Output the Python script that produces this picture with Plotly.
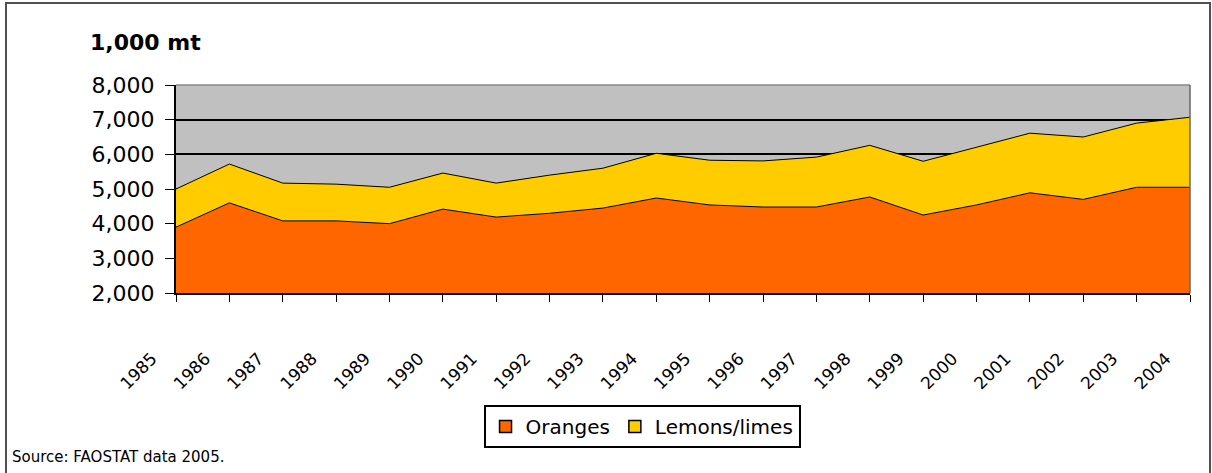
import plotly.graph_objects as go

# citrus production, 1,000 mt
years = list(range(1985, 2005))
oranges = [3900, 4600, 4080, 4080, 4000, 4420, 4190, 4300, 4450, 4740,
           4540, 4480, 4480, 4770, 4250, 4540, 4890, 4700, 5050, 5050]
lemons_limes = [1100, 1120, 1090, 1060, 1050, 1040, 980, 1100, 1150, 1290,
                1290, 1330, 1440, 1490, 1550, 1670, 1720, 1800, 1850, 2020]
y_ticks = [2000, 3000, 4000, 5000, 6000, 7000, 8000]

series = [("Oranges", oranges, "#ff6600"), ("Lemons/limes", lemons_limes, "#ffcc00")]

fig = go.Figure()
for name, vals, col in series:
    fig.add_scatter(x=years, y=vals, name=name, stackgroup="one", showlegend=False,
                    mode="lines", line=dict(color="black", width=1), fillcolor=col)
# square legend keys, like the original
for name, vals, col in series:
    fig.add_bar(x=[None], y=[None], name=name, marker=dict(color=col, line=dict(color="black", width=1.5)))

fig.update_layout(
    width=1212, height=473,
    margin=dict(l=176, r=22, t=85, b=180),
    paper_bgcolor="white",
    plot_bgcolor="#c0c0c0",
    font=dict(family="DejaVu Sans", color="black"),
    showlegend=True,
    legend=dict(orientation="h", x=0.4596, xanchor="center", y=-0.538, yanchor="top",
                traceorder="normal", bordercolor="black", borderwidth=2, bgcolor="white",
                font=dict(size=20, family="DejaVu Sans"), itemwidth=30),
    hovermode=False,
)

fig.update_xaxes(
    range=[1985, 2004], tickvals=years, ticktext=[str(y) for y in years],
    tickangle=-45, ticks="outside", ticklen=7, tickcolor="black",
    showline=True, linecolor="black", linewidth=2, showgrid=False,
    tickfont=dict(size=17, family="DejaVu Sans"), ticklabelstandoff=40,
    ticklabelshift=-24, zeroline=False,
)
fig.update_yaxes(
    range=[2000, 8000], tickvals=y_ticks, tickformat=",",
    ticks="outside", ticklen=9, tickcolor="black",
    showline=True, linecolor="black", linewidth=2,
    showgrid=True, gridcolor="black", gridwidth=1.5,
    tickfont=dict(size=22, family="DejaVu Sans"), ticklabelstandoff=6,
    zeroline=False,
)

# plot border top / right
fig.add_shape(type="line", xref="paper", yref="paper", x0=0, x1=1, y0=1, y1=1,
              line=dict(color="#888888", width=1.5), layer="above")
fig.add_shape(type="line", xref="paper", yref="paper", x0=1, x1=1, y0=0, y1=1,
              line=dict(color="#666666", width=1.5), layer="above")

# outer frame (bottom edge falls outside the picture)
fig.add_shape(type="rect", xref="paper", yref="paper",
              x0=(6 - 176) / 1014, x1=(1210 - 176) / 1014,
              y0=(293 - 478) / 208, y1=(293 - 3) / 208,
              line=dict(color="#505050", width=2), layer="above")

fig.add_annotation(text="<b>1,000 mt</b>", xref="paper", yref="paper",
                   x=-0.0868, y=1.2067, xanchor="left", yanchor="middle",
                   showarrow=False, font=dict(size=22, family="DejaVu Sans"))
fig.add_annotation(text="Source: FAOSTAT data 2005.", xref="paper", yref="paper",
                   x=-0.1637, y=-0.788, xanchor="left", yanchor="middle",
                   showarrow=False, font=dict(size=15, family="DejaVu Sans"))

fig.write_html("out.html", config={"displayModeBar": False},
               post_script="document.body.style.margin='0px';")
